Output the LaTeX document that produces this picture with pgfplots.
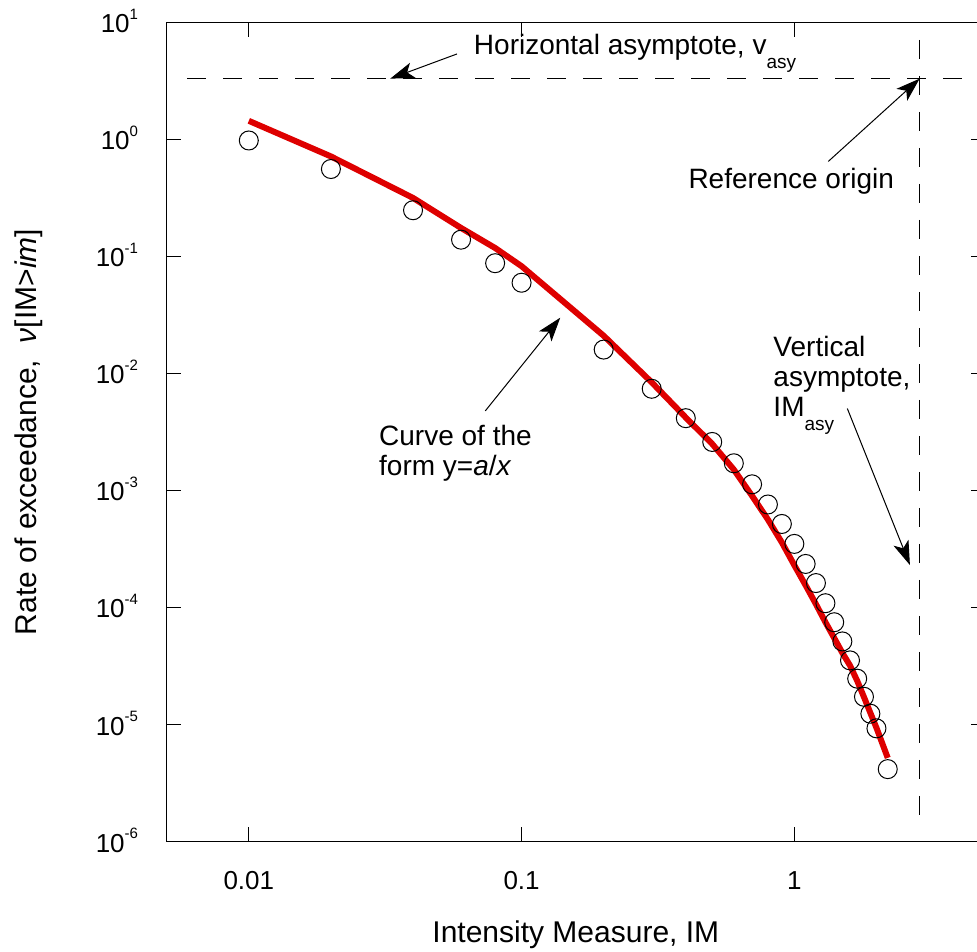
\documentclass[border=0pt]{standalone}
\usepackage{fontspec}
\setmainfont{Liberation Sans}
\usepackage{pgfplots}
\pgfplotsset{compat=1.18}
\usetikzlibrary{arrows.meta}
\definecolor{curvered}{RGB}{222,0,0}
\newcommand{\sps}[1]{\raisebox{6.7pt}{\fontsize{7.5}{9}\selectfont #1}}
\newcommand{\sbs}[1]{\raisebox{-7pt}{\fontsize{9.5}{11}\selectfont #1}}
\begin{document}
\begin{tikzpicture}
\begin{axis}[
  name=ax,
  scale only axis,
  width=409.15pt, height=409.7pt,
  xmode=log, ymode=log,
  xmin=0.005, xmax=5, ymin=1e-6, ymax=10,
  xtick={0.01,0.1,1}, xticklabels={0.01,0.1,1},
  ytick={1e-6,1e-5,1e-4,1e-3,1e-2,1e-1,1,10},
  yticklabels={10\sps{-6},10\sps{-5},10\sps{-4},10\sps{-3},10\sps{-2},10\sps{-1},10\sps{0},10\sps{1}},
  xminorticks=false, yminorticks=false,
  tick align=inside,
  major tick length=7.25pt,
  tick style={black, line width=0.5pt},
  axis line style={black, line width=0.6pt},
  xticklabel style={anchor=base, yshift=-23.8pt, font=\fontsize{13}{15}\selectfont},
  yticklabel style={anchor=base east, xshift=-10.8pt, yshift=-5.2pt, font=\fontsize{13}{15}\selectfont},
  xlabel={Intensity Measure, IM},
  ylabel={Rate of exceedance,\ \ \textit{ν}[IM>\textit{im}]},
  xlabel style={at={(axis description cs:0.5,-0.1236)}, anchor=base, font=\fontsize{15}{18}\selectfont},
  ylabel style={at={(axis description cs:-0.1589,0.5)}, anchor=base, font=\fontsize{15}{18}\selectfont},
  clip=false,
]
% dashed asymptotes
\addplot[black, line width=0.5pt, dash pattern=on 9.5pt off 8.5pt] coordinates {(0.00595,3.3) (5,3.3)};
\addplot[black, line width=0.5pt, dash pattern=on 9.5pt off 8.5pt] coordinates {(2.88,7.07) (2.88,1.46e-6)};
% fitted curve
\addplot[curvered, line width=3pt, line join=round] coordinates {
(0.01,1.44)(0.02,0.715)(0.04,0.316)(0.06,0.175)(0.08,0.118)(0.1,0.0825)
(0.2,0.021)(0.3,0.0084)(0.4,0.0042)(0.5,0.0025)(0.6,0.00151)(0.7,0.0009)
(0.8,0.000565)(0.9,0.00036)(1.0,0.00023)(1.1,0.000155)(1.2,0.000107)
(1.3,7.5e-5)(1.4,5.5e-5)(1.5,4.1e-5)(1.6,3.2e-5)(1.7,2.37e-5)(1.8,1.72e-5)
(1.9,1.26e-5)(2.0,9.4e-6)(2.2,5.2e-6)};
% data points
\addplot[only marks, mark=o, mark size=4.75pt, mark options={black, line width=0.5pt}] coordinates {
(0.01,0.978)(0.02,0.558)(0.04,0.248)(0.06,0.139)(0.08,0.0875)(0.1,0.0596)
(0.2,0.016)(0.3,0.0074)(0.4,0.00415)(0.5,0.0026)(0.6,0.00171)(0.7,0.00113)
(0.8,0.00076)(0.9,0.000518)(1.0,0.00035)(1.1,0.000236)(1.2,0.000162)
(1.3,0.000109)(1.4,7.5e-5)(1.5,5.14e-5)(1.6,3.54e-5)(1.7,2.47e-5)(1.8,1.73e-5)
(1.9,1.24e-5)(2.0,9.3e-6)(2.2,4.17e-6)};
% annotations
\node[anchor=base west, inner sep=0pt, font=\fontsize{14}{17}\selectfont] at (axis cs:0.0667,5.26) {Horizontal asymptote, v\sbs{asy}};
\draw[line width=0.5pt, -{Stealth[length=12pt,width=8pt,inset=3pt]}] (axis cs:0.058,5.367) -- (axis cs:0.033,3.3);
\node[anchor=base west, inner sep=0pt, font=\fontsize{14}{17}\selectfont] at (axis cs:0.4079,0.377) {Reference origin};
\draw[line width=0.5pt, -{Stealth[length=12pt,width=8pt,inset=3pt]}] (axis cs:1.332,0.648) -- (axis cs:2.88,3.3);
\node[anchor=base west, inner sep=0pt, font=\fontsize{14}{17}\selectfont] at (axis cs:0.8357,0.01403) {Vertical};
\node[anchor=base west, inner sep=0pt, font=\fontsize{14}{17}\selectfont] at (axis cs:0.8357,0.00778) {asymptote,};
\node[anchor=base west, inner sep=0pt, font=\fontsize{14}{17}\selectfont] at (axis cs:0.8357,0.00431) {IM\sbs{asy}};
\draw[line width=0.5pt, -{Stealth[length=12pt,width=8pt,inset=3pt]}] (axis cs:1.564,0.005023) -- (axis cs:2.653,2.31e-4);
\node[anchor=base west, inner sep=0pt, font=\fontsize{14}{17}\selectfont] at (axis cs:0.02996,0.00241) {Curve of the};
\node[anchor=base west, inner sep=0pt, font=\fontsize{14}{17}\selectfont] at (axis cs:0.02996,0.001337) {form y=\textit{a}/\textit{x}};
\draw[line width=0.5pt, -{Stealth[length=12pt,width=8pt,inset=3pt]}] (axis cs:0.07362,0.004789) -- (axis cs:0.1386,0.02996);
\end{axis}
\pgfresetboundingbox
\useasboundingbox ([xshift=-83.35pt,yshift=-54.65pt]ax.south west) rectangle ([xshift=405.15pt,yshift=11.15pt]ax.north west);
\end{tikzpicture}
\end{document}
